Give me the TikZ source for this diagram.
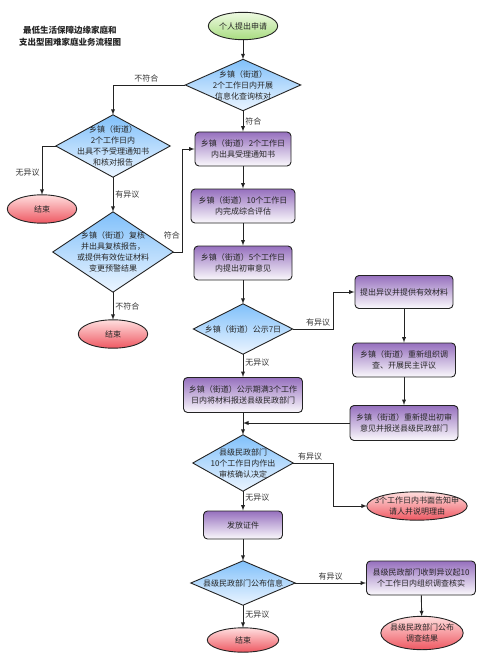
\documentclass[tikz,border=0pt]{standalone}
\usepackage{fontspec}
\setmainfont{Noto Sans CJK SC}
\usetikzlibrary{shapes.geometric,calc,backgrounds}
\definecolor{lineclr}{RGB}{35,35,35}
\definecolor{boxtop}{RGB}{150,112,190}
\definecolor{diatop}{RGB}{128,192,250}
\definecolor{diabot}{RGB}{236,245,255}
\definecolor{endtop}{RGB}{255,222,222}
\definecolor{endbot}{RGB}{238,88,98}
\definecolor{starttop}{RGB}{238,250,226}
\definecolor{startbot}{RGB}{168,220,128}
\tikzset{
	txt/.style={font=\fontsize{8}{11}\selectfont, text=black!85, align=center},
	frame/.style={txt, inner sep=0pt},
	box/.style={txt, draw=lineclr, line width=0.9pt, rounded corners=4pt, top color=boxtop, bottom color=boxtop!4, inner sep=1pt},
	arr/.style={-latex, draw=lineclr, line width=0.9pt},
	lbl/.style={font=\fontsize{8}{10}\selectfont, text=black!80, inner sep=2pt},
	bluefill/.style={draw=lineclr, line width=0.9pt, top color=diatop, bottom color=diabot},
	redfill/.style={draw=lineclr, line width=0.9pt, top color=endtop, bottom color=endbot},
	greenfill/.style={draw=lineclr, line width=0.9pt, top color=starttop, bottom color=startbot}
}
\begin{document}
\begin{tikzpicture}[x=1pt,y=-1pt]
				\useasboundingbox (0,0) rectangle (492,671);
				\node[font=\fontsize{8.5}{12}\selectfont\bfseries, text=black!85, align=center] (title) at (70,36) {最低生活保障边缘家庭和\\支出型困难家庭业务流程图};
				% left column
				\node[frame, minimum width=69pt, minimum height=27pt] (start) at (243,26) {个人提出申请};
				\node[frame, minimum width=115pt, minimum height=51pt] (chk) at (243,85) {乡镇（街道）\\2个工作日内开展\\信息化查询核对};
				\node[frame, minimum width=114pt, minimum height=62pt] (rej) at (113,146) {乡镇（街道）\\2个工作日内\\出具不予受理通知书\\和核对报告};
				\node[frame, minimum width=69pt, minimum height=28pt] (end1) at (42,209) {结束};
				\node[frame, minimum width=120pt, minimum height=80pt] (rev) at (113,252) {乡镇（街道）复核\\并出具复核报告，\\或提供有效佐证材料\\变更预警结果};
				\node[frame, minimum width=69pt, minimum height=28pt] (end2) at (113,334) {结束};
				% middle column
				\node[box, minimum width=96pt, minimum height=34pt] (acc) at (243,149) {乡镇（街道）2个工作日\\内出具受理通知书};
				\node[box, minimum width=104pt, minimum height=34pt] (eval) at (243,206) {乡镇（街道）10个工作日\\内完成综合评估};
				\node[box, minimum width=98pt, minimum height=34pt] (prel) at (243,263) {乡镇（街道）5个工作日\\内提出初审意见};
				\node[frame, minimum width=99pt, minimum height=50pt] (pub) at (243,329) {乡镇（街道）公示7日};
				\node[box, minimum width=119pt, minimum height=35pt] (send) at (243,395) {乡镇（街道）公示期满3个工作\\日内将材料报送县级民政部门};
				\node[frame, minimum width=100pt, minimum height=56pt] (conf) at (243,463) {县级民政部门\\10个工作日内作出\\审核确认决定};
				\node[box, minimum width=79pt, minimum height=28pt] (cert) at (243,525) {发放证件};
				\node[frame, minimum width=104pt, minimum height=44pt] (ann) at (243,583) {县级民政部门公布信息};
				\node[frame, minimum width=71pt, minimum height=24pt] (end3) at (243,640) {结束};
				% right column
				\node[box, minimum width=98pt, minimum height=33pt] (obj) at (404,292) {提出异议并提供有效材料};
				\node[box, minimum width=103pt, minimum height=34pt] (redo) at (404,360) {乡镇（街道）重新组织调\\查、开展民主评议};
				\node[box, minimum width=108pt, minimum height=35pt] (resub) at (404,423) {乡镇（街道）重新提出初审\\意见并报送县级民政部门};
				\node[frame, minimum width=100pt, minimum height=28pt] (notice) at (417,506) {3个工作日内书面告知申\\请人并说明理由};
				\node[box, minimum width=109pt, minimum height=34pt] (inv) at (421,578) {县级民政部门收到异议起10\\个工作日内组织调查核实};
				\node[frame, minimum width=82pt, minimum height=33pt] (res) at (422,633) {县级民政部门公布\\调查结果};
				\begin{pgfonlayer}{background}
					\foreach \nd in {chk,rej,rev,pub,conf,ann}
						\path[bluefill] (\nd.north) -- (\nd.east) -- (\nd.south) -- (\nd.west) -- cycle;
					\foreach \nd in {end1,end2,end3,notice,res}
						\path[redfill] let \p1=($(\nd.north east)-(\nd.center)$) in (\nd.center) ellipse [x radius=\x1, y radius=\y1];
					\path[greenfill] let \p1=($(start.north east)-(start.center)$) in (start.center) ellipse [x radius=\x1, y radius=\y1];
				\end{pgfonlayer}
				% connectors
				\draw[arr] (start) -- (chk);
				\draw[arr] (chk.west) -| node[lbl, pos=0.27, above] {不符合} (rej.north);
				\draw[arr] (chk) -- node[lbl, right] {符合} (acc);
				\draw[arr] (rej.west) -| node[lbl, pos=0.77, left] {无异议} (end1.north);
				\draw[arr] (rej) -- node[lbl, right] {有异议} (rev);
				\draw[arr] (rev.east) -- ++(9,0) |- node[lbl, pos=0.08, left] {符合} (acc.west);
				\draw[arr] (rev) -- node[lbl, right] {不符合} (end2);
				\draw[arr] (acc) -- (eval);
				\draw[arr] (eval) -- (prel);
				\draw[arr] (prel) -- (pub);
				\draw[arr] (pub.east) -- node[lbl, pos=0.62, above] {有异议} ++(41,0) |- (obj.west);
				\draw[arr] (obj) -- (redo);
				\draw[arr] (redo) -- (resub);
				\draw[arr] (pub) -- node[lbl, pos=0.35, right] {无异议} (send);
				\draw[arr] (send) -- (conf);
				\draw[arr] (resub.west) -- (resub.west -| send.south);
				\draw[arr] (conf.east) -- node[lbl, pos=0.42, above] {有异议} ++(40,0) |- (notice.west);
				\draw[arr] (conf) -- node[lbl, pos=0.35, right] {无异议} (cert);
				\draw[arr] (cert) -- (ann);
				\draw[arr] (ann.east) -- node[lbl, above] {有异议} (ann.east -| inv.west);
				\draw[arr] (ann) -- node[lbl, pos=0.4, right] {无异议} (end3);
				\draw[arr] (inv) -- (res);
\end{tikzpicture}
\end{document}
